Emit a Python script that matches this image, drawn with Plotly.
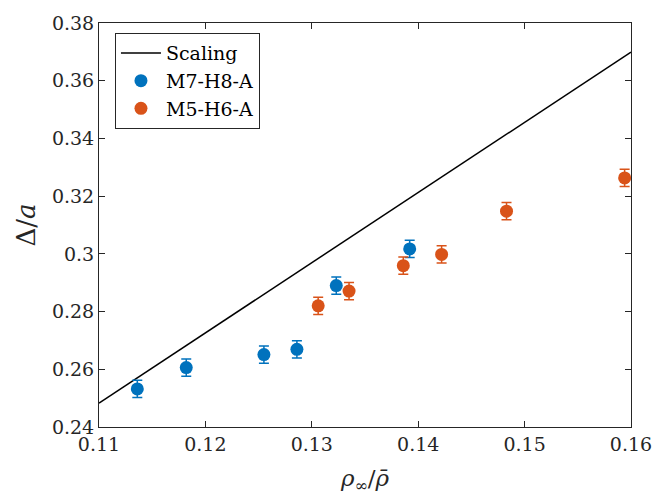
import plotly.graph_objects as go

# Data
scaling_x = [0.11, 0.16]
scaling_y = [0.2483, 0.3699]

m7_x = [0.1136, 0.1182, 0.1255, 0.1286, 0.1323, 0.1392]
m7_y = [0.2532, 0.2606, 0.2651, 0.2669, 0.2890, 0.3017]
m7_err = [0.003, 0.003, 0.003, 0.003, 0.003, 0.003]

m5_x = [0.1306, 0.1335, 0.1386, 0.1422, 0.1483, 0.1594]
m5_y = [0.2820, 0.2871, 0.2959, 0.2998, 0.3148, 0.3263]
m5_err = [0.003, 0.003, 0.003, 0.003, 0.003, 0.003]

x_ticks = [0.11, 0.12, 0.13, 0.14, 0.15, 0.16]
y_ticks = [0.24, 0.26, 0.28, 0.30, 0.32, 0.34, 0.36, 0.38]
y_ticktext = ["0.24", "0.26", "0.28", "0.3", "0.32", "0.34", "0.36", "0.38"]

BLUE = "#0072BD"
ORANGE = "#D95319"
FONT = "DejaVu Serif"

fig = go.Figure()
fig.add_trace(go.Scatter(x=scaling_x, y=scaling_y, mode="lines",
                         line=dict(color="black", width=1.5), name="Scaling"))
fig.add_trace(go.Scatter(x=m7_x, y=m7_y, mode="markers", name="M7-H8-A",
                         marker=dict(color=BLUE, size=13),
                         error_y=dict(type="data", array=m7_err, color=BLUE,
                                      thickness=1.5, width=5)))
fig.add_trace(go.Scatter(x=m5_x, y=m5_y, mode="markers", name="M5-H6-A",
                         marker=dict(color=ORANGE, size=13),
                         error_y=dict(type="data", array=m5_err, color=ORANGE,
                                      thickness=1.5, width=5)))

axis_common = dict(showgrid=False, zeroline=False, showline=True, mirror="ticks",
                   linecolor="#262626", linewidth=1, ticks="inside", ticklen=6,
                   tickcolor="#262626", automargin=False,
                   tickfont=dict(family=FONT, size=19, color="#262626"))

fig.update_layout(
    width=653, height=497,
    margin=dict(l=99, r=22, t=23, b=70, autoexpand=False),
    paper_bgcolor="white", plot_bgcolor="white",
    font=dict(family=FONT, color="#262626"),
    xaxis=dict(range=[0.11, 0.16], tickvals=x_ticks,
               ticktext=[f"{v:.2f}" for v in x_ticks],
               title=dict(text="<i>ρ</i><sub>∞</sub>/<i>ρ̄</i>", font=dict(family=FONT, size=23),
                          standoff=16),
               **axis_common),
    yaxis=dict(range=[0.24, 0.38], tickvals=y_ticks, ticktext=y_ticktext,
               title=dict(text="Δ/<i>a</i>", font=dict(family=FONT, size=26), standoff=8),
               **axis_common),
    legend=dict(x=0.03, y=0.975, xanchor="left", yanchor="top",
                bgcolor="white", bordercolor="#262626", borderwidth=1,
                font=dict(family=FONT, size=19, color="black"),
                itemwidth=40, tracegroupgap=0),
    showlegend=True,
)

fig.write_html("out.html")
